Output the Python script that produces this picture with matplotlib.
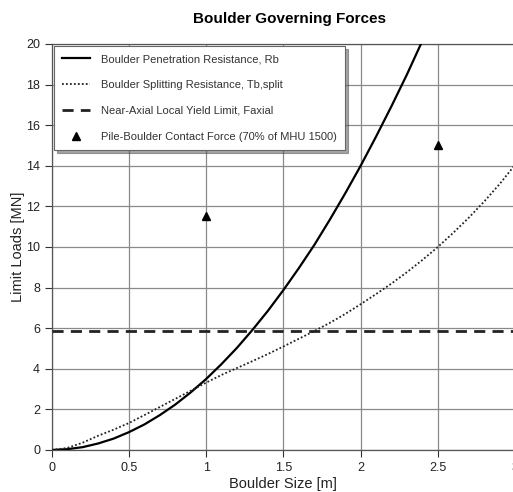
import matplotlib
matplotlib.use('Agg')
import matplotlib.pyplot as plt

plt.rcParams['font.family'] = ['Liberation Sans', 'DejaVu Sans']

# ── Data ──────────────────────────────────────────────────────────────────────
size_rb = [0.0, 0.1, 0.2, 0.3, 0.4, 0.5, 0.6, 0.7, 0.8, 0.9, 1.0, 1.1, 1.2,
           1.3, 1.4, 1.5, 1.6, 1.7, 1.8, 1.9, 2.0, 2.1, 2.2, 2.3, 2.4]
rb = [0.0, 0.04, 0.14, 0.32, 0.56, 0.88, 1.26, 1.72, 2.24, 2.84, 3.5, 4.24,
      5.04, 5.92, 6.86, 7.88, 8.96, 10.1, 11.34, 12.64, 14.0, 15.44, 16.94,
      18.5, 20.16]

size_tb = [0.0, 0.1, 0.2, 0.3, 0.4, 0.5, 0.6, 0.7, 0.8, 0.9, 1.0, 1.1, 1.2,
           1.3, 1.4, 1.5, 1.6, 1.7, 1.8, 1.9, 2.0, 2.1, 2.2, 2.3, 2.4, 2.5,
           2.6, 2.7, 2.8, 2.9, 3.0]
tb_split = [0.0, 0.1, 0.36, 0.7, 1.0, 1.33, 1.72, 2.12, 2.52, 2.92, 3.32,
            3.7, 4.04, 4.38, 4.73, 5.1, 5.48, 5.86, 6.26, 6.7, 7.18, 7.68,
            8.2, 8.76, 9.36, 10.0, 10.7, 11.44, 12.24, 13.1, 14.05]

faxial = 5.85

contact_size = [1.0, 2.5]
contact_force = [11.55, 15.0]

x_ticks = [0, 0.5, 1, 1.5, 2, 2.5, 3]
x_tick_labels = ['0', '0.5', '1', '1.5', '2', '2.5', '3']
y_ticks = list(range(0, 21, 2))

# ── Plot ──────────────────────────────────────────────────────────────────────
fig = plt.figure(figsize=(5.13, 4.92), dpi=100)
ax = fig.add_axes([0.101, 0.0854, 0.903, 0.8252])

ax.plot(size_rb, rb, color='black', linewidth=1.6,
        label='Boulder Penetration Resistance, Rb', zorder=3)
ax.plot(size_tb, tb_split, color='#222222', linewidth=1.3, linestyle=(0, (1, 1.2)),
        label='Boulder Splitting Resistance, Tb,split', zorder=3)
ax.axhline(faxial, color='#222222', linewidth=2.0, linestyle=(0, (4, 2.6)),
           label='Near-Axial Local Yield Limit, Faxial', zorder=3)
ax.plot(contact_size, contact_force, linestyle='none', marker='^', color='black',
        markersize=6, label='Pile-Boulder Contact Force (70% of MHU 1500)', zorder=4)

ax.set_xlim(0, 3)
ax.set_ylim(0, 20)
ax.set_xticks(x_ticks)
ax.set_xticklabels(x_tick_labels)
ax.set_yticks(y_ticks)
ax.tick_params(direction='out', length=5, width=0.8, colors='#333333',
               labelsize=9, labelcolor='#222222')
ax.grid(True, color='#8a8a8a', linewidth=0.9)
ax.set_axisbelow(True)
for side in ['left', 'bottom', 'top']:
    ax.spines[side].set_color('#555555')
    ax.spines[side].set_linewidth(0.9)
ax.spines['right'].set_visible(False)

ax.set_xlabel('Boulder Size [m]', fontsize=10.5, color='#222222', labelpad=2)
ax.set_ylabel('Limit Loads [MN]', fontsize=10.5, color='#222222', labelpad=1)
ax.set_title('Boulder Governing Forces', fontsize=11, fontweight='bold', pad=15,
             x=0.513)

leg = ax.legend(loc='upper left', bbox_to_anchor=(0.002, 0.998), fontsize=8,
                frameon=True, fancybox=False, shadow=True, labelspacing=1.42,
                handlelength=2.5, borderpad=0.75, handletextpad=0.95,
                borderaxespad=0.1)
leg.get_frame().set_edgecolor('#666666')
leg.get_frame().set_linewidth(0.8)
for txt in leg.get_texts():
    txt.set_color('#333333')

fig.savefig('out.png', dpi=100)
